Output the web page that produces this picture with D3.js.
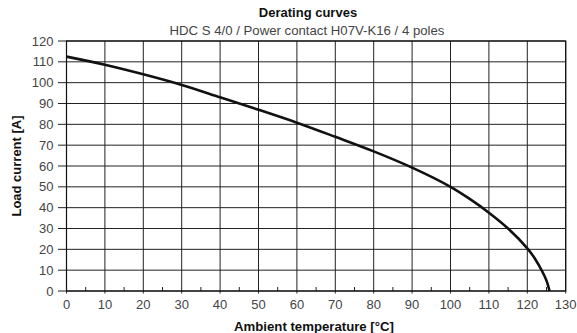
<!DOCTYPE html>
<html><head><meta charset="utf-8">
<script src="https://cdn.jsdelivr.net/npm/d3@7"></script>
<style>body{margin:0;background:#fff;}svg{display:block;}</style>
</head><body>
<script>
const temperature = [0,10,20,30,40,50,60,70,80,90,100,105,110,115,120,122,124,125,125.8];
const loadCurrent = [112.5,108.6,104,98.9,93,87,80.8,74,67,59.2,50,44.2,37.6,30,20.5,15.5,9,5,0];
const xTicks = d3.range(0,131,10);
const xMinorTicks = d3.range(5,130,10);
const yTicks = d3.range(0,121,10);
const title = "Derating curves";
const subtitle = "HDC S 4/0 / Power contact H07V-K16 / 4 poles";
const xTitle = "Ambient temperature [°C]";
const yTitle = "Load current [A]";

const W=577,H=333;
const m={l:66.5,r:11.3,t:41,b:42};
const svg=d3.select("body").append("svg").attr("width",W).attr("height",H);
const x=d3.scaleLinear().domain([0,130]).range([m.l,W-m.r]);
const y=d3.scaleLinear().domain([0,120]).range([H-m.b,m.t]);
const font="Liberation Sans, Arial, Helvetica, sans-serif";

// grid
const g=svg.append("g");
g.selectAll(".vx").data(xTicks).join("line")
 .attr("x1",d=>x(d)).attr("x2",d=>x(d)).attr("y1",y(120)).attr("y2",y(0)+2.5)
 .attr("stroke","#222").attr("stroke-width",1);
g.selectAll(".hy").data(yTicks).join("line")
 .attr("x1",x(0)-8.5).attr("x2",x(130)).attr("y1",d=>y(d)).attr("y2",d=>y(d))
 .attr("stroke","#222").attr("stroke-width",1);
g.selectAll(".mn").data(xMinorTicks).join("line")
 .attr("x1",d=>x(d)).attr("x2",d=>x(d)).attr("y1",y(0)).attr("y2",y(0)-4)
 .attr("stroke","#222").attr("stroke-width",1);
g.append("rect").attr("x",x(0)).attr("y",y(120)).attr("width",x(130)-x(0)).attr("height",y(0)-y(120))
 .attr("fill","none").attr("stroke","#111").attr("stroke-width",1.2);

// tick labels
svg.selectAll(".xl").data(xTicks).join("text")
 .attr("x",d=>x(d)).attr("y",y(0)+17.5).attr("text-anchor","middle")
 .attr("font-family",font).attr("font-size",13).attr("fill","#444").text(d=>d);
svg.selectAll(".yl").data(yTicks).join("text")
 .attr("x",x(0)-13).attr("y",d=>y(d)+4.6).attr("text-anchor","end")
 .attr("font-family",font).attr("font-size",13).attr("fill","#444").text(d=>d);

// curve
const line=d3.line().x((d,i)=>x(temperature[i])).y(d=>y(d)).curve(d3.curveCatmullRom.alpha(0.5));
svg.append("path").datum(loadCurrent).attr("d",line)
 .attr("fill","none").attr("stroke","#111").attr("stroke-width",2.6);

// titles
svg.append("text").attr("x",308).attr("y",17).attr("text-anchor","middle")
 .attr("font-family",font).attr("font-size",13).attr("font-weight","bold").attr("fill","#111").text(title);
svg.append("text").attr("x",307).attr("y",34.5).attr("text-anchor","middle")
 .attr("font-family",font).attr("font-size",13.2).attr("fill","#444").text(subtitle);
svg.append("text").attr("x",314).attr("y",331).attr("text-anchor","middle")
 .attr("font-family",font).attr("font-size",13.2).attr("font-weight","bold").attr("fill","#111").text(xTitle);
svg.append("text").attr("transform","translate(21,166) rotate(-90)").attr("text-anchor","middle")
 .attr("font-family",font).attr("font-size",13).attr("font-weight","bold").attr("fill","#111").text(yTitle);
</script>
</body></html>
